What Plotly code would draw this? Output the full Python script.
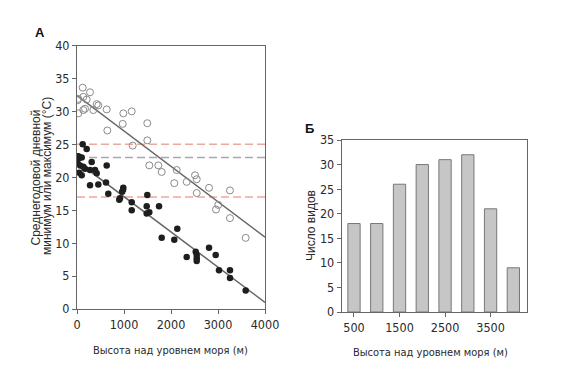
import plotly.graph_objects as go

# ---------------- data ----------------
# Panel A: open circles = maximum, filled = minimum
max_elev = [121, 28, 15, 134, 277, 206, 134, 28, 347, 170, 419, 453, 632, 645, 985, 1164, 972,
            1496, 1496, 1185, 1538, 1730, 1802, 2070, 2121, 2334, 2511, 2547, 2547, 2809, 2957,
            3006, 3255, 3255, 3589]
max_temp = [33.6, 31.9, 31.7, 32.2, 32.9, 31.8, 30.2, 29.7, 30.2, 30.4, 31.1, 30.9, 30.3, 27.1,
            29.7, 30.0, 28.1, 28.2, 25.6, 24.8, 21.8, 21.8, 20.8, 19.1, 21.1, 19.3, 20.3, 19.7,
            17.6, 18.4, 15.1, 15.8, 18.0, 13.8, 10.8]

min_elev = [28, 100, 15, 64, 134, 170, 49, 100, 121, 206, 313, 277, 383, 419, 277, 453, 632, 617,
            666, 985, 980, 960, 915, 900, 1164, 1164, 1496, 1483, 1483, 1538, 1745, 1802, 2070,
            2134, 2334, 2526, 2547, 2547, 2547, 2809, 2951, 3021, 3255, 3255, 3589, 20, 60]
min_temp = [23.2, 23.0, 22.1, 21.8, 21.6, 21.3, 20.7, 20.3, 25.0, 24.3, 22.3, 21.1, 21.1, 20.6,
            18.8, 18.9, 21.8, 19.2, 17.5, 18.4, 18.1, 17.8, 16.8, 16.6, 16.2, 15.0, 17.3, 15.6,
            14.5, 14.7, 15.6, 10.8, 10.5, 12.2, 7.9, 8.7, 8.2, 7.7, 7.3, 9.3, 8.2, 5.9, 5.9, 4.7,
            2.8, 22.8, 23.0]

fit_elev = [0, 4000]
max_fit = [32.4, 10.9]
min_fit = [22.4, 1.0]

ref_levels_red = [25, 17]
ref_level_grey = [23]

# Panel B
band_elev = [500, 1000, 1500, 2000, 2500, 3000, 3500, 4000]
species = [18, 18, 26, 30, 31, 32, 21, 9]
b_ticks = [500, 1500, 2500, 3500]

# ---------------- figure ----------------
W, H = 567, 384
OFF = 8  # page body margin offset
FONT = "DejaVu Sans Condensed, Liberation Sans Narrow, Arial Narrow, Liberation Sans, sans-serif"
VFONT = "Liberation Sans, Arial, sans-serif"


def px(v):
    return (v - OFF) / W


def py(v):
    return 1 - (v - OFF) / H


fig = go.Figure()

for lv in ref_levels_red:
    fig.add_trace(go.Scatter(x=[0, 4000], y=[lv, lv], mode="lines",
                             line=dict(color="#eea89c", width=1.5, dash="8px,4px"),
                             xaxis="x", yaxis="y", hoverinfo="skip"))
for lv in ref_level_grey:
    fig.add_trace(go.Scatter(x=[0, 4000], y=[lv, lv], mode="lines",
                             line=dict(color="#a8a8a8", width=1.5, dash="8px,4px"),
                             xaxis="x", yaxis="y", hoverinfo="skip"))

fig.add_trace(go.Scatter(x=fit_elev, y=max_fit, mode="lines",
                         line=dict(color="#666666", width=1.5), xaxis="x", yaxis="y"))
fig.add_trace(go.Scatter(x=fit_elev, y=min_fit, mode="lines",
                         line=dict(color="#666666", width=1.5), xaxis="x", yaxis="y"))

fig.add_trace(go.Scatter(x=max_elev, y=max_temp, mode="markers",
                         marker=dict(symbol="circle-open", size=7, color="#8a8a8a",
                                     line=dict(width=1)),
                         xaxis="x", yaxis="y"))
fig.add_trace(go.Scatter(x=min_elev, y=min_temp, mode="markers",
                         marker=dict(symbol="circle", size=6.5, color="#1e1e1e"),
                         xaxis="x", yaxis="y"))

fig.add_trace(go.Bar(x=band_elev, y=species, width=270,
                     marker=dict(color="#c6c6c6", line=dict(color="#777777", width=1)),
                     xaxis="x2", yaxis="y2"))

axis_common = dict(showgrid=False, zeroline=False, showline=True, linecolor="#666666",
                   linewidth=1, mirror=True, ticks="outside", ticklen=4, tickcolor="#666666",
                   automargin=False,
                   tickfont=dict(family=FONT, size=12.5, color="#2a2a2a"))

fig.update_layout(
    width=W, height=H, margin=dict(l=0, r=0, t=0, b=0),
    paper_bgcolor="white", plot_bgcolor="white", showlegend=False,
    xaxis=dict(domain=[px(77), px(265)], range=[0, 4000], tickvals=[0, 1000, 2000, 3000, 4000],
               anchor="y", **axis_common),
    yaxis=dict(domain=[py(309), py(45.5)], range=[0, 40], dtick=5, anchor="x",
               **axis_common),
    xaxis2=dict(domain=[px(341.7), px(527)], range=[230, 4300], tickvals=b_ticks,
                anchor="y2", **axis_common),
    yaxis2=dict(domain=[py(312), py(140)], range=[0, 35], dtick=5, anchor="x2",
                **axis_common),
)

tfont = dict(family=FONT, size=11, color="#2a2a2a")
vfont = dict(family=VFONT, size=12, color="#2a2a2a")
bfont = dict(family="Liberation Sans, Arial", size=13, color="#111")
anns = [
    dict(text="<b>А</b>", x=px(40), y=py(32), font=bfont),
    dict(text="<b>Б</b>", x=px(309), y=py(128), font=bfont),
    dict(text="Высота над уровнем моря (м)", x=px(170), y=py(350), font=tfont),
    dict(text="Высота над уровнем моря (м)", x=px(430), y=py(352), font=tfont),
    dict(text="Среднегодовой дневной", x=px(35.5), y=py(178), font=vfont, textangle=-90),
    dict(text="минимум или максимум (°С)", x=px(47), y=py(176), font=vfont, textangle=-90),
    dict(text="Число видов", x=px(311), y=py(226), font=vfont, textangle=-90),
]
for a in anns:
    a.update(xref="paper", yref="paper", showarrow=False, xanchor="center", yanchor="middle")
    fig.add_annotation(**a)

fig.write_html("out.html")
